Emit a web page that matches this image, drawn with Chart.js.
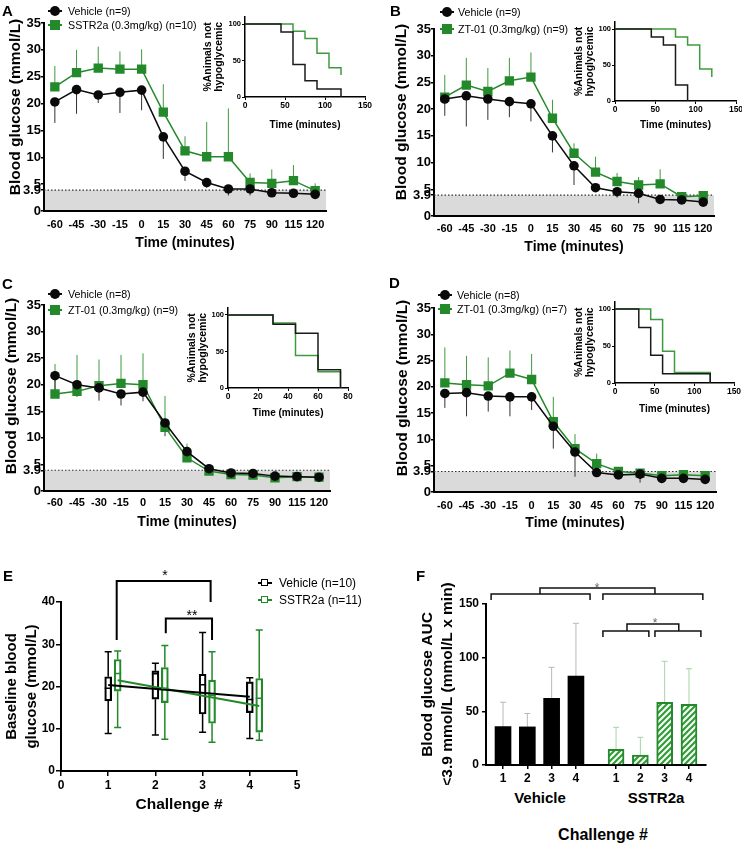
<!DOCTYPE html>
<html><head><meta charset="utf-8">
<script src="https://cdn.jsdelivr.net/npm/chart.js@4.4.1/dist/chart.umd.min.js"></script>
<style>
html,body{margin:0;padding:0;background:#fff}
#root{position:relative;width:742px;height:844px;overflow:hidden;font-family:'Liberation Sans',Arial,sans-serif;color:#000}
#root canvas{position:absolute}
</style>
</head><body><div id="root"></div>
<script>
// ================= DATA =================
const timeLabels = ['-60','-45','-30','-15','0','15','30','45','60','75','90','115','120'];
const glucoseTicks = [0, 3.9, 5, 10, 15, 20, 25, 30, 35];
const hypoThreshold = 3.9;

// Panel A
const A_vehicle    = [20.3, 22.6, 21.6, 22.1, 22.5, 13.8, 7.4, 5.3, 4.1, 4.1, 3.4, 3.3, 3.1];
const A_vehicleErr = [3.9, 4.5, 1.5, 3.85, 3.75, 4.1, 1.8, 1.0, 1.2, 1.2, 0.5, 0.3, 0.4];
const A_drug       = [23.1, 25.75, 26.6, 26.4, 26.4, 18.4, 11.2, 10.1, 10.1, 5.3, 5.15, 5.65, 3.8];
const A_drugErr    = [3.9, 4.25, 4.0, 3.3, 3.7, 5.2, 2.7, 6.5, 9.0, 1.7, 2.6, 2.9, 1.35];
// Panel B
const B_vehicle    = [21.9, 22.5, 21.9, 21.4, 21.0, 15.0, 9.4, 5.3, 4.55, 4.25, 3.1, 3.0, 2.6];
const B_vehicleErr = [3.15, 5.75, 3.9, 2.9, 3.3, 3.1, 3.6, 0.3, 1.1, 1.85, 0.3, 0.3, 0.3];
const B_drug       = [22.25, 24.5, 23.3, 25.3, 26.0, 18.3, 11.75, 8.2, 6.45, 5.8, 6.0, 3.6, 3.8];
const B_drugErr    = [4.15, 5.1, 4.4, 4.3, 4.6, 3.45, 1.85, 2.9, 1.6, 1.5, 2.75, 0.3, 0.75];
// Panel C
const C_vehicle    = [21.7, 20.0, 19.4, 18.25, 18.6, 12.8, 7.4, 4.2, 3.4, 3.3, 2.8, 2.7, 2.6];
const C_vehicleErr = [4.0, 2.3, 2.4, 2.15, 1.7, 2.5, 1.5, 0.5, 0.3, 0.3, 0.3, 0.3, 0.3];
const C_drug       = [18.25, 18.75, 19.8, 20.25, 20.0, 12.0, 6.25, 3.75, 3.1, 3.0, 2.5, 2.7, 2.6];
const C_drugErr    = [5.65, 6.85, 4.95, 5.35, 5.9, 5.9, 2.65, 0.5, 0.4, 0.4, 0.4, 0.2, 0.2];
// Panel D
const D_vehicle    = [18.75, 18.9, 18.25, 18.1, 18.1, 12.5, 7.6, 3.7, 3.25, 3.4, 2.6, 2.6, 2.4];
const D_vehicleErr = [2.75, 4.5, 2.95, 3.7, 2.5, 4.25, 4.7, 0.5, 0.4, 1.6, 0.8, 0.5, 0.4];
const D_drug       = [20.75, 20.4, 20.2, 22.6, 21.4, 13.4, 8.25, 5.4, 3.9, 3.6, 3.1, 3.3, 3.1];
const D_drugErr    = [6.75, 5.5, 5.4, 4.3, 4.85, 4.7, 2.75, 1.9, 0.4, 0.4, 0.4, 0.7, 0.4];

// Kaplan-Meier insets (% animals not hypoglycemic)
const A_kmVehicleT = [0, 45, 60, 75, 90, 120];   const A_kmVehicleS = [100, 88.9, 44.4, 22.2, 11.1, 0];
const A_kmDrugT    = [0, 60, 75, 90, 105, 120];  const A_kmDrugS    = [100, 90, 80, 60, 40, 30];
const B_kmVehicleT = [0, 45, 60, 75, 90];        const B_kmVehicleS = [100, 88.9, 77.8, 22.2, 0];
const B_kmDrugT    = [0, 75, 90, 105, 120];      const B_kmDrugS    = [100, 88.9, 77.8, 44.4, 33.3];
const C_kmVehicleT = [0, 30, 45, 60, 75];        const C_kmVehicleS = [100, 87.5, 75, 25, 0];
const C_kmDrugT    = [0, 30, 45, 60, 75];        const C_kmDrugS    = [100, 88.9, 44.4, 22.2, 0];
const D_kmVehicleT = [0, 30, 45, 60, 120];       const D_kmVehicleS = [100, 75, 37.5, 12.5, 0];
const D_kmDrugT    = [0, 45, 60, 75, 120];       const D_kmDrugS    = [100, 85.7, 42.9, 14.3, 0];

// Panel E (box plots of baseline glucose per challenge)
const challenge = [1, 2, 3, 4];
const E_vehicleMin = [8.9, 8.5, 9.2, 7.7];
const E_vehicleQ1  = [16.6, 17.0, 13.5, 13.8];
const E_vehicleMed = [19.6, 23.0, 20.4, 16.9];
const E_vehicleQ3  = [22.3, 23.7, 22.9, 21.1];
const E_vehicleMax = [28.2, 25.5, 32.8, 22.1];
const E_sstrMin = [10.3, 7.5, 6.8, 7.3];
const E_sstrQ1  = [18.9, 16.2, 11.3, 9.2];
const E_sstrMed = [23.1, 19.6, 17.9, 17.2];
const E_sstrQ3  = [26.4, 24.5, 21.5, 21.9];
const E_sstrMax = [28.4, 29.7, 28.2, 33.4];
const E_vehicleFit = [20.35, 17.6];  // regression line at challenge 1 and 4
const E_sstrFit    = [21.5, 15.4];

// Panel F (AUC < 3.9 mmol/L)
const F_vehicleAUC = [35.8, 35.5, 62.0, 82.8];
const F_vehicleSD  = [22.7, 12.5, 29.0, 49.2];
const F_sstrAUC    = [14.6, 9.3, 58.4, 56.5];
const F_sstrSD     = [20.5, 16.5, 38.2, 33.2];

// ================= STYLE / HELPERS =================
const FONT = "'Liberation Sans', Arial, sans-serif";
Chart.defaults.font.family = FONT;
Chart.defaults.color = '#000';
const BLACK = '#0a0a0a';
const GREEN = '#23892a';
const GREEN_ERR = '#3d9a3d';
const GREEN_KM = '#3f9a3f';
const root = document.getElementById('root');

const hypoPlugin = {
  id: 'hypo',
  beforeDatasetsDraw(chart, args, opts) {
    if (!opts || opts.level == null) return;
    const {ctx, chartArea: a, scales: {y}} = chart;
    const yv = y.getPixelForValue(opts.level), y0 = y.getPixelForValue(0);
    ctx.save();
    ctx.fillStyle = '#dadada';
    ctx.fillRect(a.left + 1, yv, a.right - a.left - 1, y0 - yv - 1);
    ctx.setLineDash([1.5, 2]);
    ctx.strokeStyle = '#333'; ctx.lineWidth = 1.2;
    ctx.beginPath(); ctx.moveTo(a.left, yv); ctx.lineTo(a.right, yv); ctx.stroke();
    ctx.restore();
  }
};
const errPlugin = {
  id: 'errbars',
  beforeDatasetsDraw(chart, args, opts) {
    const sets = opts && opts.sets; if (!sets) return;
    const {ctx} = chart; const ys = chart.scales.y;
    ctx.save();
    for (const s of sets) {
      const meta = chart.getDatasetMeta(s.index);
      const vals = chart.data.datasets[s.index].data;
      ctx.strokeStyle = s.color; ctx.lineWidth = s.width || 1;
      meta.data.forEach((el, i) => {
        const v = (vals[i] !== null && typeof vals[i] === 'object') ? vals[i].y : vals[i];
        const e = s.err[i]; if (!e) return;
        const yEnd = ys.getPixelForValue(v + s.dir * e);
        ctx.beginPath(); ctx.moveTo(el.x, el.y); ctx.lineTo(el.x, yEnd);
        if (s.cap) { ctx.moveTo(el.x - s.cap, yEnd); ctx.lineTo(el.x + s.cap, yEnd); }
        ctx.stroke();
      });
    }
    ctx.restore();
  }
};
const bracketPlugin = {
  id: 'brackets',
  afterDatasetsDraw(chart, args, opts) {
    const list = opts && opts.list; if (!list) return;
    const {ctx, scales: {x, y}} = chart;
    ctx.save();
    for (const b of list) {
      ctx.strokeStyle = opts.color || '#000'; ctx.lineWidth = opts.width || 1.5;
      const x1 = x.getPixelForValue(b.x1), x2 = x.getPixelForValue(b.x2);
      const yt = y.getPixelForValue(b.y), y1 = y.getPixelForValue(b.y1), y2 = y.getPixelForValue(b.y2);
      ctx.beginPath(); ctx.moveTo(x1, y1); ctx.lineTo(x1, yt); ctx.lineTo(x2, yt); ctx.lineTo(x2, y2); ctx.stroke();
    }
    ctx.restore();
  }
};
const boxPlugin = {
  id: 'boxwhisk',
  afterDatasetsDraw(chart, args, opts) {
    if (!opts || !opts.boxes) return;
    const {ctx} = chart; const y = chart.scales.y;
    ctx.save();
    for (const b of opts.boxes) {
      const meta = chart.getDatasetMeta(b.index);
      ctx.strokeStyle = b.color; ctx.lineWidth = 1.5;
      meta.data.forEach((el, i) => {
        const x = el.x, hw = el.width / 2;
        const pMin = y.getPixelForValue(b.min[i]), pMax = y.getPixelForValue(b.max[i]), pMed = y.getPixelForValue(b.med[i]);
        const top = Math.min(el.y, el.base), bot = Math.max(el.y, el.base);
        ctx.beginPath();
        ctx.moveTo(x, top); ctx.lineTo(x, pMax); ctx.moveTo(x - hw, pMax); ctx.lineTo(x + hw, pMax);
        ctx.moveTo(x, bot); ctx.lineTo(x, pMin); ctx.moveTo(x - hw, pMin); ctx.lineTo(x + hw, pMin);
        ctx.moveTo(x - hw, pMed); ctx.lineTo(x + hw, pMed);
        ctx.stroke();
      });
    }
    ctx.restore();
  }
};

function place(box, plot, cfg) {
  const cv = document.createElement('canvas');
  cv.width = box.w; cv.height = box.h;
  cv.style.left = box.x + 'px'; cv.style.top = box.y + 'px';
  cv.style.width = box.w + 'px'; cv.style.height = box.h + 'px';
  root.appendChild(cv);
  const o = cfg.options;
  o.responsive = false; o.animation = false; o.devicePixelRatio = 1;
  o.events = [];
  o.layout = {padding: {left: 0, top: plot.t - box.y, right: box.x + box.w - plot.r,
    bottom: Math.max(0, box.y + box.h - plot.b - plot.hx)}};
  const yW = plot.l - box.x, xH = plot.hx;
  o.scales.y.afterFit = s => { s.width = yW; };
  o.scales.x.afterFit = s => { s.height = xH; };
  return new Chart(cv.getContext('2d'), cfg);
}

function text(str, x, y, o = {}) {
  const d = document.createElement('div');
  d.textContent = str;
  const size = o.size || 12, weight = o.weight || 'normal', align = o.align || 'center';
  const tx = align === 'center' ? '-50%' : (align === 'left' ? '0' : '-100%');
  d.style.cssText = `position:absolute;left:${x}px;top:${y}px;font:${weight} ${size}px ${FONT};line-height:1;white-space:nowrap;color:${o.color || '#000'};transform:translate(${tx},-50%)${o.rotate ? ` rotate(${o.rotate}deg)` : ''};`;
  root.appendChild(d);
}
function shape(x, y, css) {
  const d = document.createElement('div');
  d.style.cssText = `position:absolute;left:${x}px;top:${y}px;` + css;
  root.appendChild(d);
}
function legendItem(cx, cy, kind, color, label, tx, size) {
  shape(cx - 7, cy - 0.75, `width:14px;height:1.5px;background:${color}`);
  if (kind === 'circle') shape(cx - 5, cy - 5, `width:10px;height:10px;border-radius:50%;background:${color}`);
  else if (kind === 'rect') shape(cx - 5, cy - 5, `width:10px;height:10px;background:${color}`);
  else shape(cx - 4, cy - 4, `width:5px;height:5px;border:1.5px solid ${color};background:#fff`);
  text(label, tx, cy, {size: size, align: 'left'});
}

// ================= MAIN TIME-COURSE PANELS =================
function mainPanel(p) {
  const cfg = {
    type: 'line',
    data: {labels: timeLabels, datasets: [
      {data: p.vehicle, borderColor: BLACK, backgroundColor: BLACK, borderWidth: 1.5,
       pointStyle: 'circle', pointRadius: 4.8, pointBorderWidth: 0, pointBackgroundColor: BLACK},
      {data: p.drug, borderColor: GREEN, backgroundColor: GREEN, borderWidth: 1.5,
       pointStyle: 'rect', pointRadius: 6.6, pointBorderWidth: 0, pointBackgroundColor: GREEN}
    ]},
    options: {
      plugins: {legend: {display: false}, tooltip: {enabled: false},
        hypo: {level: hypoThreshold},
        errbars: {sets: [
          {index: 1, err: p.drugErr, dir: 1, color: GREEN_ERR, width: 1},
          {index: 0, err: p.vehicleErr, dir: -1, color: '#333', width: 1}
        ]}},
      scales: {
        x: {type: 'category', offset: true, grid: {display: false, drawTicks: false},
            border: {color: '#000', width: 2},
            ticks: {font: {size: 11, weight: 'bold'}, color: '#000', padding: p.tickPad, maxRotation: 0, minRotation: 0, autoSkip: false},
            title: {display: true, text: 'Time (minutes)', font: {size: 14, weight: 'bold', lineHeight: 1.2}, color: '#000', padding: 0}},
        y: {type: 'linear', min: 0, max: 35,
            afterBuildTicks: s => { s.ticks = glucoseTicks.map(v => ({value: v})); },
            ticks: {autoSkip: false, font: {size: 13, weight: 'bold'}, color: '#000', padding: 0, callback: v => String(v)},
            grid: {drawOnChartArea: false, drawTicks: true, tickLength: 3, color: '#000', lineWidth: 1.5},
            border: {color: '#000', width: 2}}
      }
    },
    plugins: [hypoPlugin, errPlugin]
  };
  place(p.box, p.plot, cfg);
}

function kmPanel(p) {
  const mk = (t, s) => t.map((v, i) => ({x: v, y: s[i]}));
  const cfg = {
    type: 'line',
    data: {datasets: [
      {data: mk(p.vT, p.vS), borderColor: '#1a1a1a', borderWidth: 1.5, pointRadius: 0, stepped: true, fill: false},
      {data: mk(p.dT, p.dS), borderColor: GREEN_KM, borderWidth: 1.5, pointRadius: 0, stepped: true, fill: false}
    ]},
    options: {
      plugins: {legend: {display: false}, tooltip: {enabled: false}},
      scales: {
        x: {type: 'linear', min: 0, max: p.xmax,
            ticks: {stepSize: p.xstep, font: {size: 8.5, weight: 'bold'}, color: '#000', padding: 1},
            grid: {drawOnChartArea: false, tickLength: 3, color: '#000', lineWidth: 1},
            border: {color: '#000', width: 1.5},
            title: {display: true, text: 'Time (minutes)', font: {size: 10, weight: 'bold', lineHeight: 1.2}, color: '#000', padding: 0}},
        y: {type: 'linear', min: 0, max: 110,
            afterBuildTicks: s => { s.ticks = [0, 50, 100].map(v => ({value: v})); },
            ticks: {font: {size: 7.5, weight: 'bold'}, color: '#000', padding: 1, autoSkip: false},
            grid: {drawOnChartArea: false, tickLength: 3, color: '#000', lineWidth: 1},
            border: {color: '#000', width: 1.5},
            title: {display: true, text: ['%Animals not', 'hypoglycemic'], font: {size: 10.5, weight: 'bold', lineHeight: 1.0}, color: '#000', padding: 0}}
      }
    }
  };
  place(p.box, p.plot, cfg);
}

mainPanel({box: {x: 0, y: 0, w: 371, h: 252}, plot: {l: 44, r: 326, t: 23, b: 211, hx: 40.4}, tickPad: 7,
  vehicle: A_vehicle, vehicleErr: A_vehicleErr, drug: A_drug, drugErr: A_drugErr});
mainPanel({box: {x: 371, y: 0, w: 371, h: 256}, plot: {l: 434, r: 714, t: 29, b: 216, hx: 39.4}, tickPad: 6,
  vehicle: B_vehicle, vehicleErr: B_vehicleErr, drug: B_drug, drugErr: B_drugErr});
mainPanel({box: {x: 0, y: 265, w: 371, h: 266}, plot: {l: 44, r: 330, t: 305, b: 491, hx: 39.4}, tickPad: 5,
  vehicle: C_vehicle, vehicleErr: C_vehicleErr, drug: C_drug, drugErr: C_drugErr});
mainPanel({box: {x: 371, y: 265, w: 371, h: 267}, plot: {l: 434, r: 716, t: 308, b: 492, hx: 39.4}, tickPad: 7,
  vehicle: D_vehicle, vehicleErr: D_vehicleErr, drug: D_drug, drugErr: D_drugErr});

kmPanel({box: {x: 203, y: 4, w: 181, h: 127}, plot: {l: 245, r: 365, t: 16.7, b: 97, hx: 34}, xmax: 150, xstep: 50,
  vT: A_kmVehicleT, vS: A_kmVehicleS, dT: A_kmDrugT, dS: A_kmDrugS});
kmPanel({box: {x: 574, y: 8, w: 181, h: 123}, plot: {l: 615, r: 736, t: 21.8, b: 101, hx: 30}, xmax: 150, xstep: 50,
  vT: B_kmVehicleT, vS: B_kmVehicleS, dT: B_kmDrugT, dS: B_kmDrugS});
kmPanel({box: {x: 187, y: 294, w: 181, h: 125}, plot: {l: 228, r: 348, t: 307.7, b: 388, hx: 31}, xmax: 80, xstep: 20,
  vT: C_kmVehicleT, vS: C_kmVehicleS, dT: C_kmDrugT, dS: C_kmDrugS});
kmPanel({box: {x: 574, y: 290, w: 181, h: 125}, plot: {l: 615, r: 734, t: 301.6, b: 383, hx: 32}, xmax: 150, xstep: 50,
  vT: D_kmVehicleT, vS: D_kmVehicleS, dT: D_kmDrugT, dS: D_kmDrugS});

// ================= PANEL E =================
const sstrShiftE = 0.2;
place({x: 2, y: 565, w: 310, h: 250}, {l: 61, r: 297, t: 602, b: 771, hx: 43.3}, {
  type: 'bar',
  data: {datasets: [
    {type: 'line', data: [{x: challenge[0], y: E_vehicleFit[0]}, {x: challenge[3], y: E_vehicleFit[1]}],
     borderColor: '#000', borderWidth: 2, pointRadius: 0},
    {type: 'line', data: [{x: challenge[0] + sstrShiftE, y: E_sstrFit[0]}, {x: challenge[3] + sstrShiftE, y: E_sstrFit[1]}],
     borderColor: GREEN, borderWidth: 2, pointRadius: 0},
    {type: 'bar', data: challenge.map((c, i) => ({x: c, y: [E_vehicleQ1[i], E_vehicleQ3[i]]})),
     borderColor: '#000', borderWidth: 1.5, backgroundColor: 'rgba(0,0,0,0)', borderSkipped: false, barThickness: 7, grouped: false},
    {type: 'bar', data: challenge.map((c, i) => ({x: c + sstrShiftE, y: [E_sstrQ1[i], E_sstrQ3[i]]})),
     borderColor: GREEN, borderWidth: 1.5, backgroundColor: 'rgba(0,0,0,0)', borderSkipped: false, barThickness: 7, grouped: false}
  ]},
  options: {
    plugins: {legend: {display: false}, tooltip: {enabled: false},
      boxwhisk: {boxes: [
        {index: 2, min: E_vehicleMin, med: E_vehicleMed, max: E_vehicleMax, color: '#000'},
        {index: 3, min: E_sstrMin, med: E_sstrMed, max: E_sstrMax, color: GREEN}]},
      brackets: {width: 2, color: '#000', list: [
        {x1: 1.18, x2: 3.17, y: 45, y1: 31, y2: 40},
        {x1: 2.22, x2: 3.2, y: 36.1, y1: 32.6, y2: 31}]}},
    scales: {
      x: {type: 'linear', min: 0, max: 5, offset: false,
          ticks: {stepSize: 1, font: {size: 12, weight: 'bold'}, color: '#000', padding: 2},
          grid: {drawOnChartArea: false, offset: false, tickLength: 5, color: '#000', lineWidth: 1.5},
          border: {color: '#000', width: 2},
          title: {display: true, text: 'Challenge #', font: {size: 15.5, weight: 'bold', lineHeight: 1.2}, color: '#000', padding: 0}},
      y: {type: 'linear', min: 0, max: 40,
          ticks: {stepSize: 10, font: {size: 12, weight: 'bold'}, color: '#000', padding: 1},
          grid: {drawOnChartArea: false, tickLength: 5, color: '#000', lineWidth: 1.5},
          border: {color: '#000', width: 2},
          title: {display: true, text: ['Baseline blood', 'glucose (mmol/L)'], font: {size: 15, weight: 'bold', lineHeight: 1.333}, color: '#000', padding: 0}}
    }
  },
  plugins: [boxPlugin, bracketPlugin]
});

// ================= PANEL F =================
function hatch(color) {
  const c = document.createElement('canvas'); c.width = 6; c.height = 6;
  const g = c.getContext('2d');
  g.fillStyle = '#f4fbf4'; g.fillRect(0, 0, 6, 6);
  g.strokeStyle = color; g.lineWidth = 2;
  g.beginPath();
  g.moveTo(-1, 7); g.lineTo(7, -1);
  g.moveTo(-4, 4); g.lineTo(4, -4);
  g.moveTo(2, 10); g.lineTo(10, 2);
  g.stroke();
  return g.createPattern(c, 'repeat');
}
const sstrShiftF = 4.65;
const fPositions = challenge.concat(challenge.map(c => c + sstrShiftF));
place({x: 418, y: 575, w: 300, h: 210}, {l: 486, r: 706, t: 604, b: 765, hx: 20}, {
  type: 'bar',
  data: {datasets: [
    {data: challenge.map((c, i) => ({x: c, y: F_vehicleAUC[i]})), backgroundColor: '#000', borderColor: '#000',
     borderWidth: 0, barThickness: 16, grouped: false},
    {data: challenge.map((c, i) => ({x: c + sstrShiftF, y: F_sstrAUC[i]})), backgroundColor: hatch('#2f9a34'), borderColor: GREEN,
     borderWidth: 2, barThickness: 16, grouped: false}
  ]},
  options: {
    plugins: {legend: {display: false}, tooltip: {enabled: false},
      errbars: {sets: [
        {index: 0, err: F_vehicleSD, dir: 1, color: '#b8b8b8', width: 1, cap: 3},
        {index: 1, err: F_sstrSD, dir: 1, color: '#a6d3a6', width: 1, cap: 3}]},
      brackets: {width: 1.5, color: '#111', list: [
        {x1: 0.51, x2: 4.58, y: 159.3, y1: 153.7, y2: 153.7},
        {x1: 5.11, x2: 9.22, y: 159.3, y1: 153.7, y2: 153.7},
        {x1: 2.52, x2: 7.25, y: 165, y1: 159.3, y2: 159.3},
        {x1: 5.11, x2: 7.0, y: 124.8, y1: 119.3, y2: 119.3},
        {x1: 7.25, x2: 9.14, y: 124.8, y1: 119.3, y2: 119.3},
        {x1: 6.1, x2: 8.23, y: 131.4, y1: 124.8, y2: 124.8}]}},
    scales: {
      x: {type: 'linear', min: 0.3, max: 9.35, offset: false,
          afterBuildTicks: s => { s.ticks = fPositions.map(v => ({value: v})); },
          ticks: {autoSkip: false, font: {size: 12, weight: 'bold'}, color: '#000', padding: 2,
                  callback: (v, i) => String(challenge[i % challenge.length])},
          grid: {drawOnChartArea: false, offset: false, tickLength: 4, color: '#000', lineWidth: 1.5},
          border: {color: '#000', width: 2}},
      y: {type: 'linear', min: 0, max: 150,
          ticks: {stepSize: 50, font: {size: 12, weight: 'bold'}, color: '#000', padding: 3},
          grid: {drawOnChartArea: false, tickLength: 4, color: '#000', lineWidth: 1.5},
          border: {color: '#000', width: 2},
          title: {display: true, text: ['Blood glucose AUC', '<3.9 mmol/L (mmol/L x min)'], font: {size: 15.5, weight: 'bold', lineHeight: 1.29}, color: '#000', padding: 0}}
    }
  },
  plugins: [errPlugin, bracketPlugin]
});

// ================= HTML TEXT =================
// panel letters
text('A', 2, 10, {size: 15, weight: 'bold', align: 'left'});
text('B', 390, 10, {size: 15, weight: 'bold', align: 'left'});
text('C', 2, 283, {size: 15, weight: 'bold', align: 'left'});
text('D', 389, 282, {size: 15, weight: 'bold', align: 'left'});
text('E', 3, 575, {size: 15, weight: 'bold', align: 'left'});
text('F', 416, 575, {size: 15, weight: 'bold', align: 'left'});

// y-axis titles of time courses
text('Blood glucose (mmol/L)', 15, 107, {size: 15.5, weight: 'bold', rotate: -90});
text('Blood glucose (mmol/L)', 401, 112, {size: 15.5, weight: 'bold', rotate: -90});
text('Blood glucose (mmol/L)', 11, 386, {size: 15.5, weight: 'bold', rotate: -90});
text('Blood glucose (mmol/L)', 402, 388, {size: 15.5, weight: 'bold', rotate: -90});

// legends
legendItem(55, 11, 'circle', BLACK, 'Vehicle (n=9)', 68, 10.7);
legendItem(55, 25, 'rect', GREEN, 'SSTR2a (0.3mg/kg) (n=10)', 68, 10.7);
legendItem(447, 12, 'circle', BLACK, 'Vehicle (n=9)', 458, 10.7);
legendItem(447, 29, 'rect', GREEN, 'ZT-01 (0.3mg/kg) (n=9)', 458, 10.7);
legendItem(55, 294, 'circle', BLACK, 'Vehicle (n=8)', 68, 10.7);
legendItem(55, 310, 'rect', GREEN, 'ZT-01 (0.3mg/kg) (n=9)', 68, 10.7);
legendItem(445, 295, 'circle', BLACK, 'Vehicle (n=8)', 457, 10.7);
legendItem(445, 309, 'rect', GREEN, 'ZT-01 (0.3mg/kg) (n=7)', 457, 10.7);
legendItem(265, 583, 'open', '#000', 'Vehicle (n=10)', 279, 12);
legendItem(265, 600, 'open', GREEN, 'SSTR2a (n=11)', 279, 12);

// significance marks
text('*', 165, 575, {size: 14});
text('**', 192, 615, {size: 14});
text('*', 597, 588, {size: 12, color: '#666'});
text('*', 655, 623, {size: 12, color: '#666'});

// F group labels and axis title
text('Vehicle', 540, 797, {size: 15, weight: 'bold'});
text('SSTR2a', 656, 797, {size: 15, weight: 'bold'});
text('Challenge #', 603, 835, {size: 16, weight: 'bold'});
</script>
</body></html>
